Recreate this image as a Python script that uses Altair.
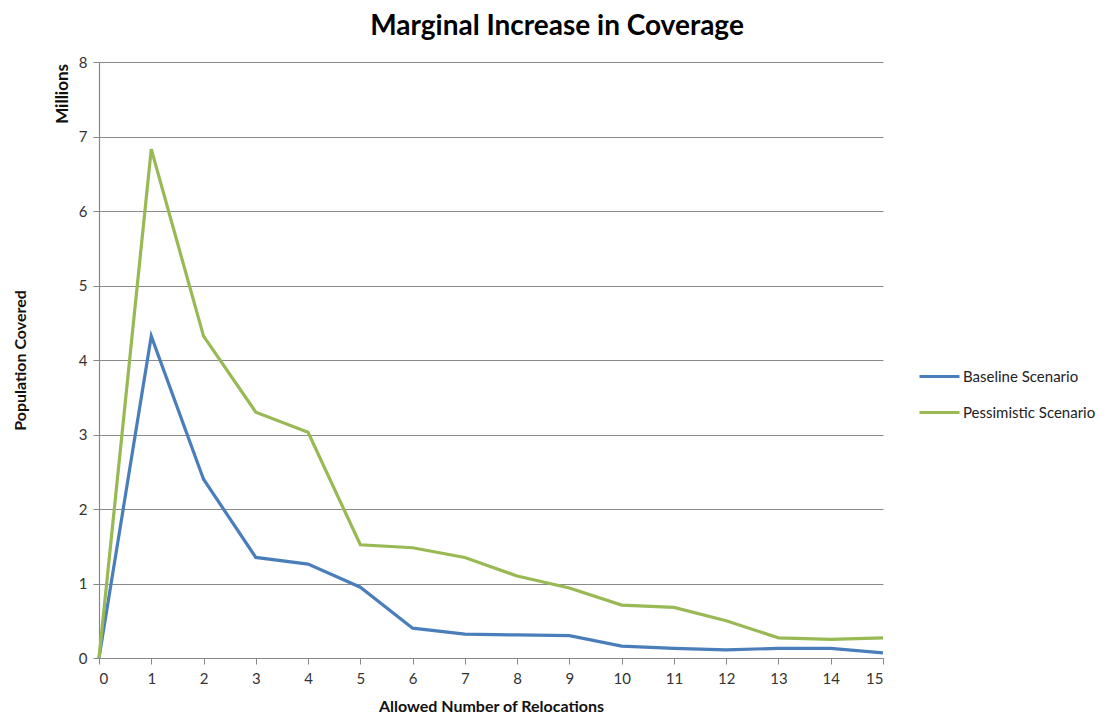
import altair as alt
import pandas as pd

relocations = list(range(16))
baseline = [0.0, 4.32, 2.40, 1.35, 1.26, 0.95, 0.40, 0.32, 0.31, 0.30, 0.16, 0.13, 0.11, 0.13, 0.13, 0.07]
pessimistic = [0.0, 6.83, 4.32, 3.30, 3.03, 1.52, 1.48, 1.35, 1.10, 0.94, 0.71, 0.68, 0.50, 0.27, 0.25, 0.27]
series_names = ["Baseline Scenario", "Pessimistic Scenario"]
colors = ["#4A7EBB", "#98B954"]

rows = []
for x, b, p in zip(relocations, baseline, pessimistic):
    rows.append({"x": x, "y": b, "series": series_names[0]})
    rows.append({"x": x, "y": p, "series": series_names[1]})
df = pd.DataFrame(rows)

FONT = "Lato"

lines = alt.Chart(df).mark_line(strokeWidth=3.2).encode(
    x=alt.X("x:Q", scale=alt.Scale(domain=[0, 15], nice=False),
            axis=alt.Axis(title="Allowed Number of Relocations", values=relocations,
                          grid=False, tickSize=6, labelPadding=7, titlePadding=12,
                          format="d")),
    y=alt.Y("y:Q", scale=alt.Scale(domain=[0, 8], nice=False),
            axis=alt.Axis(title="Population Covered", values=list(range(9)),
                          grid=True, tickSize=6, labelPadding=6, titleX=-71, titleY=298,
                          format="d")),
    color=alt.Color("series:N", scale=alt.Scale(domain=series_names, range=colors),
                    legend=alt.Legend(title=None, orient="none", legendX=819, legendY=293,
                                      symbolType="stroke", symbolSize=1600,
                                      symbolStrokeWidth=3, labelFontSize=15,
                                      labelFont=FONT, labelColor="#222222",
                                      rowPadding=6, labelOffset=2)),
)

millions = alt.Chart(pd.DataFrame({"t": ["Millions"]})).mark_text(
    angle=270, font=FONT, fontSize=17, fontWeight="bold", align="right",
    baseline="middle", color="#111111"
).encode(x=alt.value(-36), y=alt.value(2), text="t:N")

chart = alt.layer(lines, millions).properties(
    width=784, height=596,
    title=alt.TitleParams("Marginal Increase in Coverage", fontSize=28, font=FONT,
                          fontWeight="bold", anchor="middle", dx=66, offset=14,
                          color="#000000"),
    autosize=alt.AutoSizeParams(type="none"),
    padding={"left": 91, "top": 54, "right": 226, "bottom": 64},
).configure_view(stroke=None).configure_axis(
    labelFont=FONT, labelFontSize=15, labelColor="#333333",
    titleFont=FONT, titleFontSize=16, titleFontWeight="bold", titleColor="#111111",
    domainColor="#888888", tickColor="#888888", gridColor="#8a8a8a",
    domainWidth=1.2, gridWidth=1,
)

chart.save("out.html", embed_options={"renderer": "svg", "actions": False})
